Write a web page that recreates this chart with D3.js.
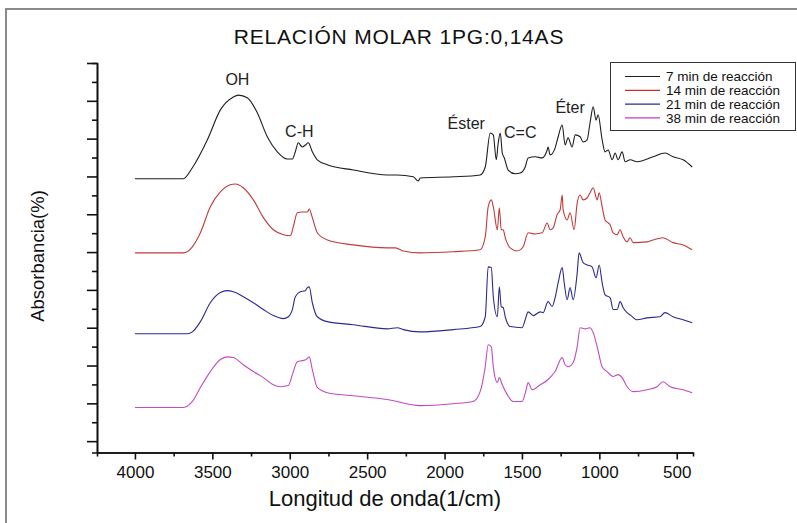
<!DOCTYPE html>
<html><head><meta charset="utf-8">
<script src="https://cdn.jsdelivr.net/npm/d3@7"></script>
<style>body{margin:0;background:#fff}svg{display:block}</style>
</head><body>
<svg id="chart" width="797" height="523"></svg>
<script>
// ---------- DATA ----------
const title = "RELACIÓN MOLAR 1PG:0,14AS";
const xLabel = "Longitud de onda(1/cm)";
const yLabel = "Absorbancia(%)";
const seriesNames = ["7 min de reacción", "14 min de reacción", "21 min de reacción", "38 min de reacción"];
const xMajorTicks = [4000, 3500, 3000, 2500, 2000, 1500, 1000, 500];
const xMinorTicks = [3750, 3250, 2750, 2250, 1750, 1250, 750];
const yMajorTicks = [0, 10, 20, 30, 40, 50, 60, 70, 80, 90, 100];
const yMinorTicks = [5, 15, 25, 35, 45, 55, 65, 75, 85, 95];

// [wavenumber (1/cm), absorbance (offset, arbitrary %)]
const min7 = [[4000,69.4],[3835,69.4],[3687,69.4],[3629,72.3],[3532,79.7],[3448,87.6],[3364,91.0],[3332,91.5],[3274,90.8],[3209,86.8],[3145,80.5],[3080,76.5],[3016,74.6],[2983,74.6],[2964,76.5],[2945,78.9],[2919,77.8],[2899,78.3],[2880,78.9],[2854,76.5],[2822,74.4],[2757,73.1],[2589,71.7],[2370,70.4],[2305,70.4],[2202,69.9],[2170,68.8],[2157,69.6],[1944,69.9],[1770,70.4],[1737,72.5],[1705,81.5],[1685,81.0],[1666,74.4],[1653,78.9],[1640,81.5],[1627,76.2],[1614,74.9],[1589,71.7],[1544,70.7],[1511,70.9],[1479,72.5],[1460,74.9],[1415,75.2],[1369,74.9],[1337,77.0],[1331,77.8],[1318,75.7],[1286,77.5],[1266,80.5],[1240,83.6],[1221,78.3],[1202,80.2],[1176,77.8],[1156,81.0],[1124,80.5],[1105,79.1],[1079,79.7],[1060,84.2],[1040,88.4],[1021,84.9],[1008,86.3],[982,79.7],[963,76.5],[943,77.0],[917,74.4],[898,76.2],[879,74.4],[853,76.5],[833,73.9],[801,74.4],[756,73.9],[653,75.2],[576,76.2],[524,75.2],[459,74.4],[400,72.5]];
const min14 = [[4000,49.8],[3687,49.8],[3629,51.4],[3577,55.1],[3513,62.0],[3448,65.9],[3384,67.8],[3351,68.0],[3300,67.0],[3235,63.8],[3170,59.1],[3106,55.9],[3041,54.6],[2996,54.3],[2977,56.7],[2951,60.4],[2919,60.6],[2886,60.6],[2874,61.4],[2854,59.1],[2822,55.1],[2757,53.2],[2589,51.9],[2370,51.1],[2318,51.1],[2266,50.3],[2157,49.8],[1944,50.1],[1770,50.6],[1737,54.0],[1718,62.0],[1698,63.8],[1685,62.0],[1659,55.9],[1646,61.7],[1634,55.9],[1621,55.9],[1608,53.8],[1576,51.1],[1531,50.3],[1492,51.4],[1460,55.1],[1415,54.8],[1369,55.1],[1337,57.7],[1318,55.9],[1298,56.4],[1273,59.9],[1253,61.2],[1240,65.1],[1234,61.2],[1208,58.5],[1189,60.4],[1163,55.9],[1143,63.0],[1124,65.1],[1105,63.8],[1079,64.3],[1060,65.7],[1040,67.0],[1014,63.8],[1001,65.7],[982,62.0],[963,58.5],[930,57.2],[911,55.1],[885,54.6],[866,55.9],[846,54.0],[821,52.7],[801,53.8],[782,52.5],[692,52.7],[653,53.2],[589,53.8],[524,52.5],[459,51.9],[400,50.6]];
const min21 = [[4000,28.4],[3661,28.4],[3629,28.9],[3577,31.6],[3513,36.6],[3448,39.3],[3403,39.8],[3364,39.5],[3300,38.2],[3235,36.6],[3170,34.8],[3106,33.2],[3041,32.4],[3009,32.9],[2983,34.8],[2964,38.2],[2932,39.5],[2899,39.8],[2886,40.6],[2874,40.8],[2854,36.6],[2822,32.9],[2757,31.6],[2589,30.8],[2370,29.7],[2305,30.0],[2266,29.5],[2157,28.9],[1944,29.5],[1770,30.3],[1737,32.9],[1718,46.1],[1698,45.9],[1685,38.2],[1659,32.9],[1646,40.8],[1634,35.6],[1621,35.3],[1608,32.9],[1576,30.3],[1499,30.0],[1479,32.1],[1460,34.2],[1427,33.2],[1382,34.2],[1363,34.0],[1331,36.9],[1305,35.6],[1286,37.9],[1266,41.9],[1240,45.9],[1227,41.9],[1208,37.4],[1189,40.6],[1169,37.4],[1143,44.5],[1131,49.8],[1105,47.2],[1079,46.6],[1047,46.1],[1021,43.2],[1001,46.6],[982,41.9],[963,38.7],[930,37.9],[911,34.8],[885,34.8],[866,36.9],[846,35.3],[821,34.0],[801,33.4],[756,32.1],[692,32.6],[608,32.9],[576,34.0],[524,32.9],[459,32.1],[400,31.3]];
const min38 = [[4000,8.9],[3687,8.9],[3629,10.5],[3577,14.2],[3513,18.4],[3448,21.6],[3403,22.3],[3364,22.1],[3300,20.2],[3235,18.4],[3170,16.8],[3106,14.9],[3061,14.4],[3009,14.7],[2983,17.6],[2951,21.0],[2919,21.3],[2893,21.6],[2874,22.3],[2854,18.9],[2822,14.2],[2757,12.8],[2589,12.0],[2370,11.0],[2157,9.4],[1944,9.9],[1815,10.5],[1770,13.1],[1737,19.7],[1718,25.5],[1698,25.0],[1685,19.7],[1659,15.5],[1646,16.8],[1627,14.9],[1595,12.3],[1557,10.5],[1499,10.5],[1473,13.6],[1460,15.5],[1434,13.6],[1382,14.9],[1331,16.3],[1286,18.4],[1240,22.1],[1221,20.2],[1202,19.7],[1169,20.8],[1143,25.0],[1124,30.0],[1092,29.7],[1060,30.0],[1040,28.7],[1014,25.0],[982,19.7],[950,18.4],[911,17.1],[879,17.6],[853,16.8],[821,14.4],[782,13.1],[692,13.6],[627,14.4],[589,15.7],[543,14.4],[459,13.6],[400,12.8]];

// peak annotations: [label, wavenumber, value]
const annotations = [["OH", 3338, 94.2], ["C-H", 2938, 80.4], ["Éster", 1860, 82.5], ["C=C", 1511, 80.2], ["Éter", 1189, 86.8]];

// ---------- DRAW ----------
const series = [min7, min14, min21, min38];
const colors = ["#1e1e1e", "#c23a3a", "#2a2a8e", "#c24ac2"];
const legendColors = ["#1e1e1e", "#d42a2a", "#2a2a8e", "#c83ac8"];

const svg = d3.select("#chart");
const font = "'Liberation Sans', Arial, sans-serif";

// outer frame
svg.append("path").attr("d", "M6,523 L6,9 L797,9").attr("fill", "none")
  .attr("stroke", "#8a8a8a").attr("stroke-width", 2);

const x = d3.scaleLinear().domain([4245, 395]).range([97, 693]);
const y = d3.scaleLinear().domain([-3, 100]).range([452.5, 63]);

// x axis
const xAxisG = svg.append("g").attr("transform", `translate(0,${y(-3)})`);
xAxisG.call(d3.axisBottom(x).tickValues(xMajorTicks).tickFormat(d3.format("d"))
  .tickSize(7).tickSizeOuter(0).tickPadding(6));
xAxisG.append("g").call(d3.axisBottom(x).tickValues(xMinorTicks).tickSize(4).tickFormat(""));
xAxisG.selectAll(".domain").attr("stroke", "#111").attr("stroke-width", 1.6);
xAxisG.selectAll("line").attr("stroke", "#111").attr("stroke-width", 1.6);
xAxisG.selectAll("text").attr("font-family", font).attr("font-size", 17).attr("fill", "#111");

// y axis
const yAxisG = svg.append("g").attr("transform", `translate(${x(4245)},0)`);
yAxisG.call(d3.axisLeft(y).tickValues(yMajorTicks).tickSize(10).tickSizeOuter(0).tickFormat(""));
yAxisG.append("g").call(d3.axisLeft(y).tickValues(yMinorTicks).tickSize(5).tickFormat(""));
yAxisG.selectAll(".domain").attr("stroke", "#111").attr("stroke-width", 1.6);
yAxisG.selectAll("line").attr("stroke", "#111").attr("stroke-width", 1.6);

// lines
const line = d3.line().x(d => x(d[0])).y(d => y(d[1])).curve(d3.curveMonotoneX);
svg.append("g").selectAll("path").data(series).join("path")
  .attr("d", line).attr("fill", "none")
  .attr("stroke", (d, i) => colors[i]).attr("stroke-width", 1.1)
  .attr("stroke-linejoin", "round");

// annotations
svg.append("g").selectAll("text").data(annotations).join("text")
  .attr("x", d => x(d[1])).attr("y", d => y(d[2]))
  .attr("text-anchor", "middle").attr("font-family", font).attr("font-size", 16)
  .attr("fill", "#222").text(d => d[0]);

// title & axis labels
svg.append("text").attr("x", 399).attr("y", 44).attr("text-anchor", "middle")
  .attr("font-family", font).attr("font-size", 21).attr("letter-spacing", 0.8)
  .attr("fill", "#111").text(title);
svg.append("text").attr("x", 385).attr("y", 506).attr("text-anchor", "middle")
  .attr("font-family", font).attr("font-size", 22).attr("fill", "#111").text(xLabel);
svg.append("text").attr("transform", "translate(44,256) rotate(-90)").attr("text-anchor", "middle")
  .attr("font-family", font).attr("font-size", 18.5).attr("fill", "#111").text(yLabel);

// legend
const lg = svg.append("g");
lg.append("rect").attr("x", 610.5).attr("y", 62.5).attr("width", 185).attr("height", 68)
  .attr("fill", "#fff").attr("stroke", "#333").attr("stroke-width", 1);
const rows = lg.selectAll("g.row").data(seriesNames).join("g").attr("class", "row")
  .attr("transform", (d, i) => `translate(0,${76.5 + i * 13.8})`);
rows.append("line").attr("x1", 625).attr("x2", 660).attr("y1", 0).attr("y2", 0)
  .attr("stroke", (d, i) => legendColors[i]).attr("stroke-width", 1.2);
rows.append("text").attr("x", 666).attr("y", 0).attr("dy", "0.35em")
  .attr("font-family", font).attr("font-size", 13.5).attr("fill", "#111").text(d => d);
</script>
</body></html>
